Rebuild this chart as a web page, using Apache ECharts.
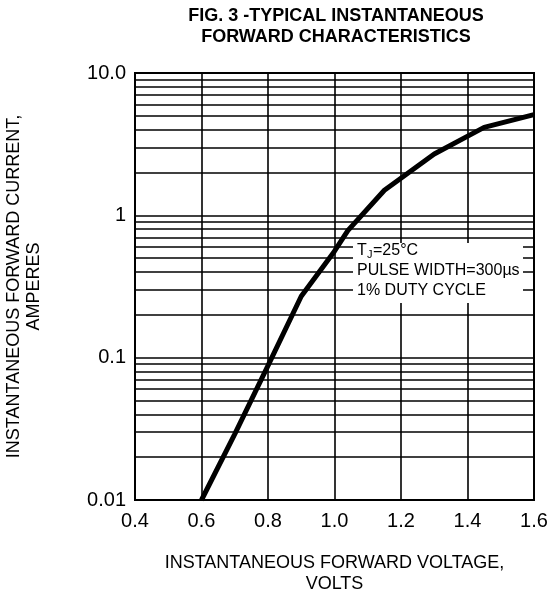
<!DOCTYPE html>
<html>
<head>
<meta charset="utf-8">
<script src="https://cdn.jsdelivr.net/npm/echarts@6/dist/echarts.min.js"></script>
<style>
html,body{margin:0;padding:0;background:#fff;}
#main{width:550px;height:592px;}
</style>
</head>
<body>
<div id="main"></div>
<script>
// forward voltage (V) and current (A)
var voltage = [0.6, 0.7, 0.8, 0.9, 1.0, 1.04, 1.15, 1.3, 1.45, 1.6];
var current = [0.01, 0.029, 0.088, 0.27, 0.56, 0.78, 1.5, 2.7, 4.15, 5.1];
// log grid lines between the decades
var decades = [0.01, 0.1, 1];
var steps = [2, 3, 4, 5, 6, 7, 8, 9];
var yTickText = {'0.01': '0.01', '0.1': '0.1', '1': '1', '10': '10.0'};

var minorLines = [];
decades.forEach(function (d) {
	steps.forEach(function (s) {
		minorLines.push({yAxis: +(d * s).toPrecision(2)});
	});
});

var FONT = 'Liberation Sans, Arial, sans-serif';
var myChart = echarts.init(document.getElementById('main'), null, {renderer: 'canvas'});

myChart.setOption({
	animation: false,
	backgroundColor: '#fff',
	grid: {
		left: 135, right: 16, top: 73, bottom: 92,
		outerBoundsMode: 'none',
		containLabel: false,
		show: true, borderColor: '#000', borderWidth: 2
	},
	xAxis: {
		type: 'value',
		min: 0.4, max: 1.6, interval: 0.2,
		name: 'INSTANTANEOUS FORWARD VOLTAGE,\nVOLTS',
		nameLocation: 'middle',
		nameGap: 53,
		nameTextStyle: {fontFamily: FONT, fontSize: 18, color: '#000', lineHeight: 21},
		axisLine: {lineStyle: {color: '#000', width: 2}},
		axisTick: {show: false},
		axisLabel: {
			fontFamily: FONT, fontSize: 20, color: '#000', margin: 11,
			formatter: function (v) { return v.toFixed(1); }
		},
		splitLine: {lineStyle: {color: '#000', width: 1.6}}
	},
	yAxis: {
		type: 'log',
		logBase: 10,
		min: 0.01, max: 10,
		name: 'INSTANTANEOUS FORWARD CURRENT,\nAMPERES',
		nameLocation: 'middle',
		nameGap: 91,
		nameRotate: 90,
		nameTextStyle: {fontFamily: FONT, fontSize: 18, color: '#000', lineHeight: 20},
		axisLine: {lineStyle: {color: '#000', width: 2}},
		axisTick: {show: false},
		axisLabel: {
			fontFamily: FONT, fontSize: 20, color: '#000', margin: 9,
			formatter: function (v) {
				var k = String(+v.toPrecision(1));
				return yTickText[k] || k;
			}
		},
		splitLine: {lineStyle: {color: '#000', width: 1.6}}
	},
	series: [
		{
			type: 'line',
			data: voltage.map(function (v, i) { return [v, current[i]]; }),
			showSymbol: false,
			lineStyle: {color: '#000', width: 5},
			z: 3,
			markLine: {
				silent: true,
				symbol: 'none',
				label: {show: false},
				lineStyle: {color: '#000', width: 1.6, type: 'solid'},
				data: minorLines
			}
		}
	],
	graphic: [
		{
			type: 'text', z: 10,
			style: {
				x: 336, y: 6,
				text: 'FIG. 3 -TYPICAL INSTANTANEOUS\nFORWARD CHARACTERISTICS',
				font: 'bold 18px ' + FONT,
				fill: '#000', align: 'center', lineHeight: 21
			}
		},
		{
			type: 'rect', z: 20,
			shape: {x: 353, y: 243, width: 170, height: 60},
			style: {fill: '#fff'}
		},
		{
			type: 'text', z: 21,
			style: {x: 357, y: 251, text: 'T', font: '16px ' + FONT, fill: '#000', verticalAlign: 'middle'}
		},
		{
			type: 'text', z: 21,
			style: {x: 367, y: 255, text: 'J', font: '11px ' + FONT, fill: '#000', verticalAlign: 'middle'}
		},
		{
			type: 'text', z: 21,
			style: {x: 373, y: 251, text: '=25°C', font: '16px ' + FONT, fill: '#000', verticalAlign: 'middle'}
		},
		{
			type: 'text', z: 21,
			style: {
				x: 357, y: 261,
				text: 'PULSE WIDTH=300µs\n1% DUTY CYCLE',
				font: '16px ' + FONT, fill: '#000', verticalAlign: 'top', lineHeight: 20
			}
		}
	]
});
</script>
</body>
</html>
